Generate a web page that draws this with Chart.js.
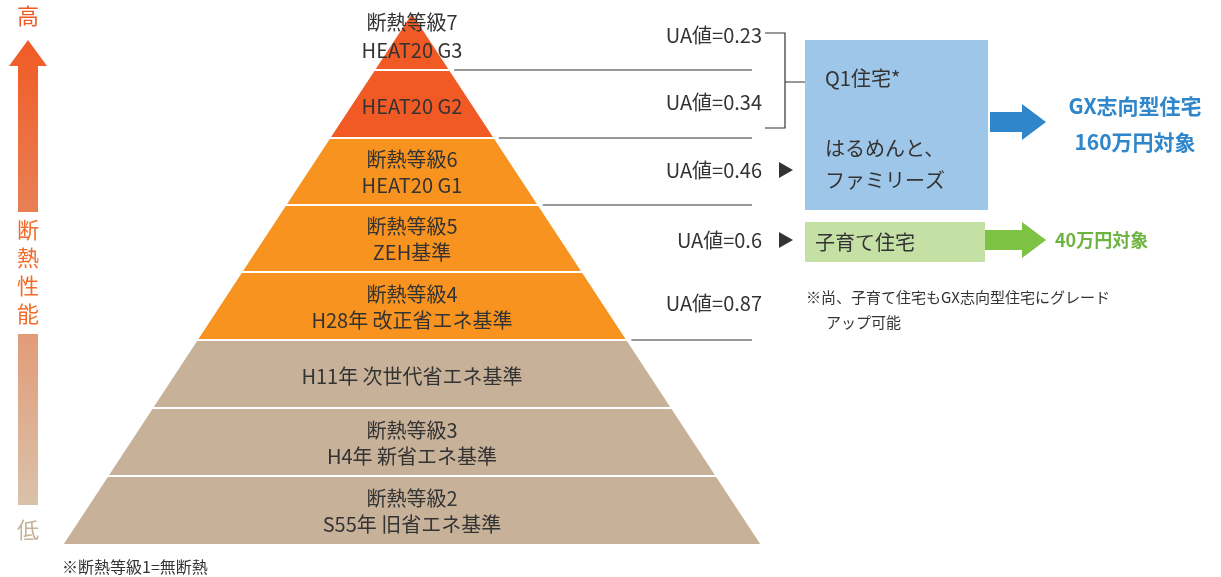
<!DOCTYPE html>
<html>
<head>
<meta charset="utf-8">
<script src="https://cdn.jsdelivr.net/npm/chart.js@4.4.1/dist/chart.umd.min.js"></script>
<style>
  html, body { margin: 0; padding: 0; background: #fff; }
  #wrap { width: 1221px; height: 577px; }
</style>
</head>
<body>
<div id="wrap"><canvas id="c" width="1221" height="577"></canvas></div>
<script>
// ---- data ----
var apex = { x: 412, y: 12 };
var baseY = 545, baseHalf = 350;
var layerBottoms = [70, 138, 205, 272, 340, 408, 476, 545];
var layerColors = ['#F15A24', '#F15A24', '#F7931E', '#F7931E', '#F7931E', '#C7B299', '#C7B299', '#C7B299'];
var layerLines = [
    ['断熱等級7', 'HEAT20 G3'],
    ['HEAT20 G2'],
    ['断熱等級6', 'HEAT20 G1'],
    ['断熱等級5', 'ZEH基準'],
    ['断熱等級4', 'H28年 改正省エネ基準'],
    ['H11年 次世代省エネ基準'],
    ['断熱等級3', 'H4年 新省エネ基準'],
    ['断熱等級2', 'S55年 旧省エネ基準']
];
var uaLabels = ['UA値=0.23', 'UA値=0.34', 'UA値=0.46', 'UA値=0.6', 'UA値=0.87'];
var uaY = [35, 102, 170, 240, 303];
var guideLineY = [70, 138, 205, 340];

var FONT = '"Noto Sans CJK JP", "Noto Sans", sans-serif';

function halfWidth(y) { return baseHalf * (y - apex.y) / (baseY - apex.y); }

var drawPlugin = {
    id: 'pyramid',
    afterDraw: function(chart) {
        var ctx = chart.ctx, sx = chart.scales.x, sy = chart.scales.y;
        function X(v) { return sx.getPixelForValue(v); }
        function Y(v) { return sy.getPixelForValue(v); }
        function text(t, x, y, size, color, align, weight) {
            ctx.font = (weight || 'normal') + ' ' + size + 'px ' + FONT;
            ctx.fillStyle = color; ctx.textAlign = align || 'left'; ctx.textBaseline = 'middle';
            ctx.fillText(t, X(x), Y(y));
        }
        ctx.save();

        // pyramid layers
        var top = apex.y;
        layerBottoms.forEach(function(b, i) {
            var ht = halfWidth(top), hb = halfWidth(b);
            ctx.beginPath();
            ctx.moveTo(X(apex.x - ht), Y(top));
            ctx.lineTo(X(apex.x + ht), Y(top));
            ctx.lineTo(X(apex.x + hb), Y(b));
            ctx.lineTo(X(apex.x - hb), Y(b));
            ctx.closePath();
            ctx.fillStyle = layerColors[i]; ctx.fill();
            ctx.strokeStyle = '#fff'; ctx.lineWidth = 2; ctx.stroke();
            var mid = (top + b) / 2, lines = layerLines[i];
            if (lines.length === 1) text(lines[0], apex.x, mid + 2, 20, '#333', 'center');
            else {
                var y0 = i === 0 ? 22 : mid - 12;
                var y1 = i === 0 ? 50 : mid + 14;
                text(lines[0], apex.x, y0, 20, '#333', 'center');
                text(lines[1], apex.x, y1, 20, '#333', 'center');
            }
            top = b;
        });

        // guide lines
        ctx.strokeStyle = '#333'; ctx.lineWidth = 1.2;
        guideLineY.forEach(function(y) {
            ctx.beginPath(); ctx.moveTo(X(apex.x + halfWidth(y) + 4), Y(y)); ctx.lineTo(X(752), Y(y)); ctx.stroke();
        });
        // bracket
        ctx.beginPath();
        ctx.moveTo(X(765), Y(33)); ctx.lineTo(X(785), Y(33)); ctx.lineTo(X(785), Y(128)); ctx.lineTo(X(765), Y(128));
        ctx.moveTo(X(785), Y(82)); ctx.lineTo(X(805), Y(82));
        ctx.stroke();

        uaLabels.forEach(function(t, i) { text(t, 762, uaY[i], 20, '#333', 'right'); });

        // small triangles
        ctx.fillStyle = '#333';
        [170, 240].forEach(function(y) {
            ctx.beginPath(); ctx.moveTo(X(779), Y(y - 8)); ctx.lineTo(X(793), Y(y)); ctx.lineTo(X(779), Y(y + 8)); ctx.closePath(); ctx.fill();
        });

        // blue box
        ctx.fillStyle = '#9DC6E8';
        ctx.fillRect(X(805), Y(40), X(988) - X(805), Y(210) - Y(40));
        text('Q1住宅*', 825, 78, 20, '#333');
        text('はるめんと、', 825, 148, 20, '#333');
        text('ファミリーズ', 825, 180, 20, '#333');
        // green box
        ctx.fillStyle = '#C5E0A5';
        ctx.fillRect(X(805), Y(222), X(985) - X(805), Y(262) - Y(222));
        text('子育て住宅', 815, 242, 20, '#333');

        function arrow(x0, x1, y, shaft, head, color) {
            ctx.fillStyle = color; ctx.beginPath();
            var hx = x1 - head;
            ctx.moveTo(X(x0), Y(y - shaft / 2)); ctx.lineTo(X(hx), Y(y - shaft / 2)); ctx.lineTo(X(hx), Y(y - head * 0.75));
            ctx.lineTo(X(x1), Y(y)); ctx.lineTo(X(hx), Y(y + head * 0.75)); ctx.lineTo(X(hx), Y(y + shaft / 2));
            ctx.lineTo(X(x0), Y(y + shaft / 2)); ctx.closePath(); ctx.fill();
        }
        arrow(990, 1046, 122, 20, 24, '#2F86CB');
        arrow(985, 1046, 240, 20, 24, '#7DC242');
        text('GX志向型住宅', 1135, 106, 21, '#2F86CB', 'center', 'bold');
        text('160万円対象', 1135, 142, 21, '#2F86CB', 'center', 'bold');
        text('40万円対象', 1055, 240, 18, '#6DB33F', 'left', 'bold');

        text('※尚、子育て住宅もGX志向型住宅にグレード', 806, 297, 15, '#333');
        text('アップ可能', 826, 322, 15, '#333');
        text('※断熱等級1=無断熱', 62, 567, 16, '#333');

        // left arrow with gradient
        var g = ctx.createLinearGradient(0, Y(40), 0, Y(505));
        g.addColorStop(0, '#F15A24'); g.addColorStop(1, '#D9C2AA');
        ctx.fillStyle = g; ctx.beginPath();
        ctx.moveTo(X(28), Y(40)); ctx.lineTo(X(47), Y(66)); ctx.lineTo(X(38), Y(66)); ctx.lineTo(X(38), Y(505));
        ctx.lineTo(X(18), Y(505)); ctx.lineTo(X(18), Y(66)); ctx.lineTo(X(9), Y(66)); ctx.closePath(); ctx.fill();
        text('高', 28, 16, 22, '#F15A24', 'center');
        text('低', 28, 530, 22, '#C7B299', 'center');
        // 断熱性能 vertical on top of the arrow
        ctx.fillStyle = '#fff';
        ctx.fillRect(X(17), Y(212), 22, Y(334) - Y(212));
        ['断', '熱', '性', '能'].forEach(function(ch, i) { text(ch, 28, 230 + i * 28, 22, '#F26B2A', 'center'); });

        ctx.restore();
    }
};

var chart = new Chart(document.getElementById('c'), {
    type: 'scatter',
    data: { datasets: [{ data: [], showLine: false }] },
    options: {
        responsive: false, animation: false, devicePixelRatio: 1,
        layout: { padding: 0 },
        plugins: { legend: { display: false }, tooltip: { enabled: false } },
        scales: {
            x: { type: 'linear', min: 0, max: 1221, display: false },
            y: { type: 'linear', min: 0, max: 577, reverse: true, display: false }
        }
    },
    plugins: [drawPlugin]
});
</script>
</body>
</html>
